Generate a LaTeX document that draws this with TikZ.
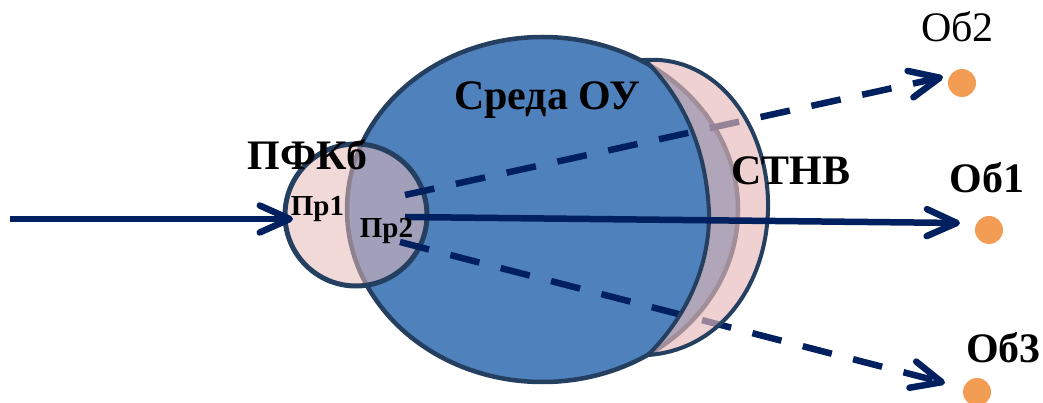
\documentclass[tikz,border=0pt]{standalone}
\usepackage{fontspec}
\setmainfont{Liberation Serif}
\usetikzlibrary{arrows.meta,positioning}

\definecolor{sredablue}{RGB}{79,129,189}
\definecolor{edgeblue}{RGB}{36,63,96}
\definecolor{raynavy}{RGB}{0,32,96}
\definecolor{pinkfill}{RGB}{230,185,184}
\definecolor{dotorange}{RGB}{242,156,84}

\begin{document}
\begin{tikzpicture}[
    x=1pt, y=-1pt,
    big/.style={
        inner sep=0pt,
        anchor=base,
        font=\fontsize{42}{42}\selectfont\bfseries
    },
    small/.style={
        inner sep=0pt,
        anchor=base,
        font=\fontsize{29}{29}\selectfont\bfseries
    },
    outline/.style={
        draw=edgeblue,
        line width=4.5pt
    },
    ray/.style={
        draw=raynavy,
        line width=6.5pt,
        -{Straight Barb[length=30pt,width=27pt,round]}
    },
    dashray/.style={
        ray,
        dash pattern=on 30pt off 22pt
    },
    obj/.style={
        circle,
        fill=dotorange,
        minimum size=28pt,
        inner sep=0pt
    }
]
    \useasboundingbox (0,0) rectangle (1043,403);

    % Environment
    \draw [outline, fill=sredablue] (542.5,209.5) ellipse [x radius=195.5, y radius=172.5];

    % Small circle
    \draw [outline, line width=5pt, fill=pinkfill, fill opacity=0.55] (356,215) circle [radius=71];

    % Ray end points
    \coordinate (in)   at (10,219);
    \coordinate (pr1)  at (293,219);
    \coordinate (src1) at (405,217);
    \coordinate (src2) at (405,195);
    \coordinate (src3) at (400,242);
    \coordinate (tip1) at (960,223);
    \coordinate (tip2) at (943,77);
    \coordinate (tip3) at (945,383);

    % Dashed rays
    \path [dashray] (src2) -- (tip2);
    \path [dashray] (src3) -- (tip3);

    % Crescent
    \draw [outline, line width=4pt, fill=pinkfill, fill opacity=0.65]
        (645,60) .. controls (720,55) and (770,130) .. (768,210)
        .. controls (766,285) and (720,350) .. (648,355)
        .. controls (685,318) and (710,268) .. (709,212)
        .. controls (706,150) and (685,100) .. (645,60) -- cycle;

    % Solid rays
    \path [ray] (in) -- (pr1);
    \path [ray] (src1) -- (tip1);

    % Objects
    \node [obj] (dot2) at (962,83) {};
    \node [obj] (dot1) at (989,230) {};
    \node [obj] (dot3) at (977,392) {};

    % Labels
    \node [big] (sreda) at (547,109.5) {Среда ОУ};
    \node [big] (pfkb) at (307.5,170) {ПФКб};
    \node [big] (stnv) at (791,185) {СТНВ};
    \node [big] (ob1) at (987,193) {Об1};
    \node [big, font=\fontsize{42}{42}\selectfont] (ob2) at (957.5,42) {Об2};
    \node [big] (ob3) at (1003.5,362) {Об3};
    \node [small] (pr1t) at (317.5,216) {Пр1};
    \node [small] (pr2t) at (386.5,237) {Пр2};

\end{tikzpicture}
\end{document}
